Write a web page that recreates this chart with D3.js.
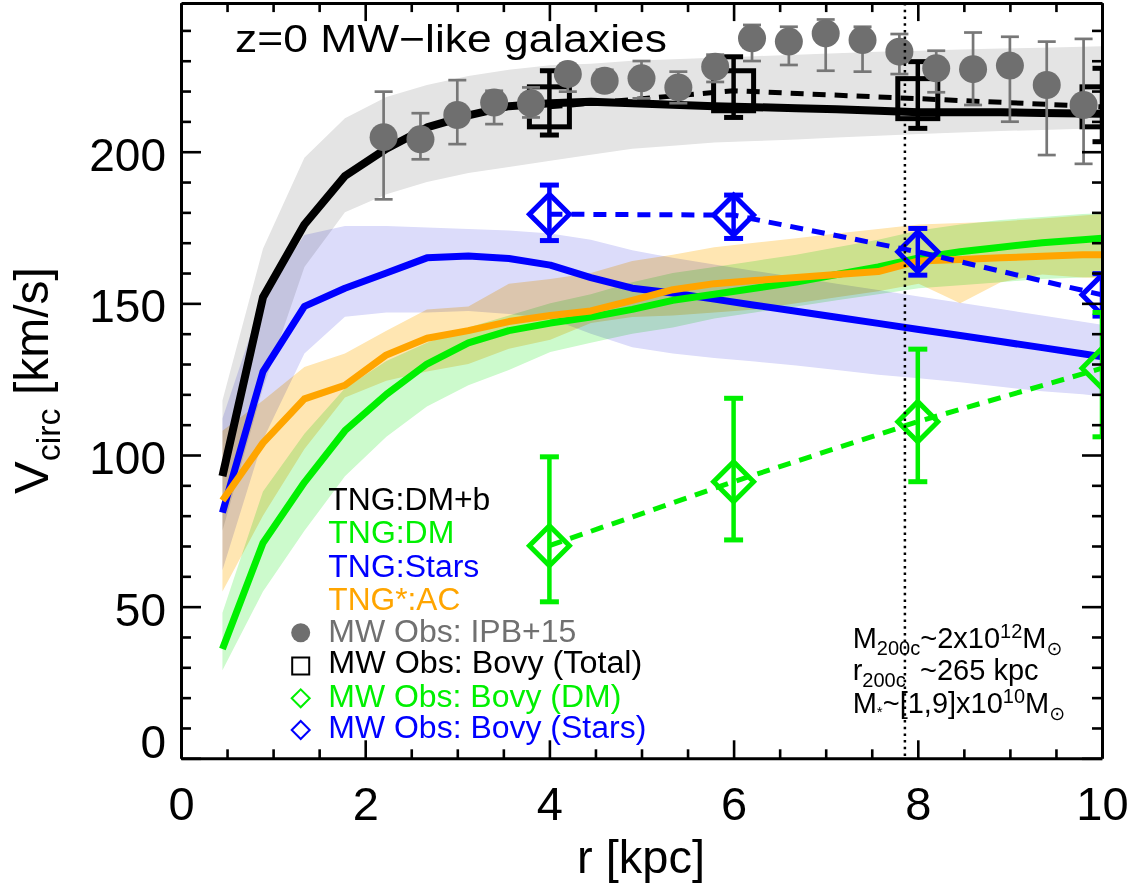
<!DOCTYPE html>
<html><head><meta charset="utf-8">
<script src="https://cdn.jsdelivr.net/npm/d3@7"></script>
<style>
body{margin:0;background:#fff}
svg text{font-family:"Liberation Sans",Arial,Helvetica,sans-serif}
</style>
</head><body>
<svg id="c" width="1135" height="886"></svg>
<script>
// ---- Simulation radial bins [kpc] ----
const radii = [0.45,0.89,1.34,1.78,2.23,2.67,3.12,3.56,4.01,4.45,4.90,5.34,5.79,6.23,6.68,7.12,7.57,8.01,8.46,8.90,9.35,9.79,10.24];
// TNG: DM+b (total)
const dmbMed = [93,152,176,192,201,208,212,215,216,216.5,216,215.5,215,214.7,214.3,214,213.5,213,213,213,212.8,212.6,212.5];
const dmbLo  = [75,122,162,180,186,190,193,195,197,199,201,202,203,203.5,204,204.7,205.3,205.8,206.3,206.8,207.2,207.6,208];
const dmbHi  = [118,168,198,211,218,222,225,227,228.5,229,230,230.5,231,231.5,232,232.5,233,233.3,233.7,234,234.3,234.6,235];
// TNG: Stars
const starsMed = [81,127.5,149,155,160,165,165.6,164.8,162.6,158.5,155,153.4,151.4,149.4,147.4,145.4,143.4,141.4,139.4,137.4,135.4,133.4,131.3];
const starsLo  = [62,105,133.5,145.6,147,147,147.5,146.5,145,140,135.5,133.5,132,130.8,129.5,128,126.5,125.3,124,122.5,121,120,118.5];
const starsHi  = [112,152,172.5,175.5,175.5,175,174.5,174,173,171,167.5,165,162.8,160.7,158.6,156.5,154.4,152.3,150.2,148.1,146,143.9,141.8];
// TNG: DM
const dmMed = [36,71,91,108,120,130,137,141,143.5,145.5,148,151,153,155,157,159.5,162,165,167,168.5,170,171,172];
const dmLo  = [29,55,75,93,106,116,123,128,134,137,140,142,145,147,149,151,153,155,156,157,158,158.5,159];
const dmHi  = [48,88,107,122,131,137,142,146,150,153,157,160,162,164,166,168.5,171,174,176,177.5,178.5,179.5,180];
// TNG*: AC
const acMed = [85,104,118.5,123,133,138.5,141,144,146,147.5,151,154.5,156.5,157.5,158.5,159.5,160.5,164,164.5,165,165.5,166,166];
const acLo  = [55,80,102,119,124.5,127.5,130,135,138,143.5,145.5,146,147,148,150,152,154,156.5,150,157,159.5,158.5,158];
const acHi  = [108,118,129,133.5,141,148,149,156.5,158,160,164,166,168.5,170,171.5,173,174.5,176,176.5,177,178,179,180];

// ---- MW observations: IPB+15 ----
const ipbR  = [2.2,2.6,3.0,3.4,3.8,4.2,4.6,5.0,5.4,5.8,6.2,6.6,7.0,7.4,7.8,8.2,8.6,9.0,9.4,9.8];
const ipbV  = [204.8,204.1,212.1,216.2,216,225.6,223.4,224.2,221.2,228,237.4,236.3,239,236.8,233,227.5,227.2,228.4,222,215.4];
const ipbLo = [184.3,197.5,202.5,209.1,211.3,219.8,220,217.6,216,223,229.9,228.6,226.7,226.4,225.6,219.6,215.4,209.9,198.9,196];
const ipbHi = [219.8,212.7,223.6,220.1,221.2,227,227,229.9,226.4,232,241.8,241.2,243.6,241.2,238.8,233.3,239.3,237.9,236.3,237.2];
// ---- MW observations: Bovy ----
const bovyR = [4,6,8,10];
const bovyTotV  = [214.8,220.1,217.5,214.8];
const bovyTotLo = [205.5,211.3,207.7,203.3];
const bovyTotHi = [226.7,231.3,229.7,227.5];
const bovyDmV  = [70.1,91.2,111,128.6];
const bovyDmLo = [51.6,72,91.2,106];
const bovyDmHi = [99.4,118.7,134.9,147];
const bovyStV  = [179.4,179.1,167,152.8];
const bovyStLo = [170.7,171.4,159.3,145.8];
const bovyStHi = [189,185.7,174.7,159.8];
const rSun = 7.86;

// ---- Axis ticks ----
const xMajor = [0,2,4,6,8,10];
const xMinor = d3.range(0.5,10,0.5).filter(v=>v%2!==0);
const yMajor = [0,50,100,150,200];
const yMinor = d3.range(10,249,10).filter(v=>v%50!==0);

const legendLabels = ["TNG:DM+b","TNG:DM","TNG:Stars","TNG*:AC","MW Obs: IPB+15","MW Obs: Bovy (Total)","MW Obs: Bovy (DM)","MW Obs: Bovy (Stars)"];

// ================= drawing =================
const svg = d3.select("#c");
const x = d3.scaleLinear().domain([0,10]).range([181,1102]);
const y = d3.scaleLinear().domain([0,249]).range([758.3,3.1]);

const COL = {black:"#000000", green:"#00f000", blue:"#0000ff", orange:"#ffa500", gray:"#707070"};

svg.append("defs").append("clipPath").attr("id","clip")
  .append("rect").attr("x",x(0)).attr("y",y(249)).attr("width",x(10)-x(0)).attr("height",y(0)-y(249));

const plot = svg.append("g").attr("clip-path","url(#clip)");

function rows(med,lo,hi){ return radii.map((r,i)=>({r, m:med[i], lo:lo[i], hi:hi[i]})); }
const series = [
  {med:dmbMed, lo:dmbLo, hi:dmbHi, line:COL.black, band:"#e4e4e4", w:8},
  {med:starsMed, lo:starsLo, hi:starsHi, line:COL.blue, band:"#dcdcfa", w:7},
  {med:dmMed, lo:dmLo, hi:dmHi, line:COL.green, band:"#ccfacc", w:7},
  {med:acMed, lo:acLo, hi:acHi, line:COL.orange, band:"#ffe6b2", w:7}
];
const area = d3.area().x(d=>x(d.r)).y0(d=>y(d.lo)).y1(d=>y(d.hi));
const line = d3.line().x(d=>x(d.r)).y(d=>y(d.m));

const bands = plot.append("g");
series.forEach(s=>{
  bands.append("path").datum(rows(s.med,s.lo,s.hi)).attr("d",area)
    .attr("fill",s.band).style("mix-blend-mode","multiply");
});
series.forEach(s=>{
  plot.append("path").datum(rows(s.med,s.lo,s.hi)).attr("d",line)
    .attr("fill","none").attr("stroke",s.line).attr("stroke-width",s.w)
    .attr("stroke-linejoin","round");
});

// Bovy data
function bovy(vals, lo, hi, color, shape){
  const pts = bovyR.map((r,i)=>({r, v:vals[i], lo:lo[i], hi:hi[i]}));
  const g = plot.append("g");
  g.append("path").datum(pts)
    .attr("d", d3.line().x(d=>x(d.r)).y(d=>y(d.v)))
    .attr("fill","none").attr("stroke",color).attr("stroke-width",5).attr("stroke-dasharray","13 9");
  const e = g.selectAll("g.e").data(pts).enter().append("g");
  e.append("line").attr("x1",d=>x(d.r)).attr("x2",d=>x(d.r)).attr("y1",d=>y(d.lo)).attr("y2",d=>y(d.hi))
    .attr("stroke",color).attr("stroke-width",4.5);
  e.append("line").attr("x1",d=>x(d.r)-9.5).attr("x2",d=>x(d.r)+9.5).attr("y1",d=>y(d.lo)).attr("y2",d=>y(d.lo))
    .attr("stroke",color).attr("stroke-width",5);
  e.append("line").attr("x1",d=>x(d.r)-9.5).attr("x2",d=>x(d.r)+9.5).attr("y1",d=>y(d.hi)).attr("y2",d=>y(d.hi))
    .attr("stroke",color).attr("stroke-width",5);
  if(shape==="square"){
    e.append("rect").attr("x",d=>x(d.r)-20).attr("y",d=>y(d.v)-20).attr("width",40).attr("height",40)
      .attr("fill","none").attr("stroke",color).attr("stroke-width",5);
  } else {
    e.append("path").attr("d",d=>{const cx=x(d.r), cy=y(d.v), h=20;
        return `M${cx-h},${cy}L${cx},${cy-h}L${cx+h},${cy}L${cx},${cy+h}Z`;})
      .attr("fill","none").attr("stroke",color).attr("stroke-width",5).attr("stroke-linejoin","miter");
  }
}
bovy(bovyTotV,bovyTotLo,bovyTotHi,COL.black,"square");
bovy(bovyStV,bovyStLo,bovyStHi,COL.blue,"diamond");
bovy(bovyDmV,bovyDmLo,bovyDmHi,COL.green,"diamond");

// IPB+15
const ipb = ipbR.map((r,i)=>({r, v:ipbV[i], lo:ipbLo[i], hi:ipbHi[i]}));
const gi = plot.append("g");
const ie = gi.selectAll("g").data(ipb).enter().append("g");
ie.append("line").attr("x1",d=>x(d.r)).attr("x2",d=>x(d.r)).attr("y1",d=>y(d.lo)).attr("y2",d=>y(d.hi))
  .attr("stroke","#777").attr("stroke-width",2.7);
ie.append("line").attr("x1",d=>x(d.r)-9).attr("x2",d=>x(d.r)+9).attr("y1",d=>y(d.lo)).attr("y2",d=>y(d.lo))
  .attr("stroke","#777").attr("stroke-width",2.7);
ie.append("line").attr("x1",d=>x(d.r)-9).attr("x2",d=>x(d.r)+9).attr("y1",d=>y(d.hi)).attr("y2",d=>y(d.hi))
  .attr("stroke","#777").attr("stroke-width",2.7);
ie.append("circle").attr("cx",d=>x(d.r)).attr("cy",d=>y(d.v)).attr("r",14).attr("fill","#6f6f6f");

// Solar radius dotted line
svg.append("line").attr("x1",x(rSun)).attr("x2",x(rSun)).attr("y1",y(249)).attr("y2",y(0))
  .attr("stroke","#000").attr("stroke-width",2.5).attr("stroke-dasharray","2.5 4.2");

// ---- Axes ----
function styleAxis(g){ g.selectAll("line").attr("stroke","#000").attr("stroke-width",2.6);
  g.select(".domain").attr("stroke","#000").attr("stroke-width",3); }
const gB = svg.append("g").attr("transform",`translate(0,${y(0)})`)
  .call(d3.axisBottom(x).tickValues(xMajor).tickSize(-18).tickSizeOuter(0).tickFormat(d3.format("d")));
styleAxis(gB);
gB.selectAll("text").attr("y",62).attr("dy",null).attr("fill","#000").style("font-size","47px")
  .style("font-family","'Liberation Sans',Arial,sans-serif");
svg.append("g").attr("transform",`translate(0,${y(0)})`)
  .call(d3.axisBottom(x).tickValues(xMinor).tickSize(-9).tickFormat("")).call(g=>{styleAxis(g);g.select(".domain").remove();});
const gT = svg.append("g").attr("transform",`translate(0,${y(249)})`)
  .call(d3.axisTop(x).tickValues(xMajor).tickSize(-18).tickSizeOuter(0).tickFormat(""));
styleAxis(gT);
svg.append("g").attr("transform",`translate(0,${y(249)})`)
  .call(d3.axisTop(x).tickValues(xMinor).tickSize(-9).tickFormat("")).call(g=>{styleAxis(g);g.select(".domain").remove();});

const gL = svg.append("g").attr("transform",`translate(${x(0)},0)`)
  .call(d3.axisLeft(y).tickValues(yMajor).tickSize(-20).tickSizeOuter(0).tickPadding(15).tickFormat(d3.format("d")));
styleAxis(gL);
gL.selectAll("text").attr("dy","0.4em").attr("fill","#000").style("font-size","46px")
  .style("font-family","'Liberation Sans',Arial,sans-serif")
  .attr("y",d=>d===0?-19:0);
svg.append("g").attr("transform",`translate(${x(0)},0)`)
  .call(d3.axisLeft(y).tickValues(yMinor).tickSize(-10).tickFormat("")).call(g=>{styleAxis(g);g.select(".domain").remove();});
const gR = svg.append("g").attr("transform",`translate(${x(10)},0)`)
  .call(d3.axisRight(y).tickValues(yMajor).tickSize(-20).tickSizeOuter(0).tickFormat(""));
styleAxis(gR);
svg.append("g").attr("transform",`translate(${x(10)},0)`)
  .call(d3.axisRight(y).tickValues(yMinor).tickSize(-10).tickFormat("")).call(g=>{styleAxis(g);g.select(".domain").remove();});

// ---- Titles ----
svg.append("text").attr("x",235).attr("y",52).style("font-size","38px")
  .attr("textLength",432).attr("lengthAdjust","spacingAndGlyphs").text("z=0 MW\u2212like galaxies");
svg.append("text").attr("x",577).attr("y",873).style("font-size","46px")
  .attr("textLength",128).attr("lengthAdjust","spacingAndGlyphs").text("r [kpc]");
const yt = svg.append("text").attr("transform","translate(48.3,494) rotate(-90)").attr("x",0).attr("y",0);
yt.append("tspan").style("font-size","49px").text("V");
yt.append("tspan").style("font-size","34px").attr("dy",12).text("circ");
yt.append("tspan").style("font-size","48px").attr("dy",-12).text("\u00a0[km/s]");

// ---- Legend ----
const legColors = [COL.black, COL.green, COL.blue, COL.orange, COL.gray, COL.black, COL.green, COL.blue];
const legY = [510,543.3,576.7,610,641.7,673.3,706.7,738.3];
const legW = [162,126,151,132,248,314,293,318];
svg.append("g").selectAll("text").data(legendLabels).enter().append("text")
  .attr("x",328.3).attr("y",(d,i)=>legY[i]).style("font-size","31px")
  .attr("fill",(d,i)=>legColors[i])
  .attr("textLength",(d,i)=>legW[i]).attr("lengthAdjust","spacingAndGlyphs")
  .text(d=>d);
const lx = 300.7;
svg.append("circle").attr("cx",lx).attr("cy",632.7).attr("r",9.5).attr("fill","#6f6f6f");
svg.append("rect").attr("x",lx-8.5).attr("y",666-8.5).attr("width",17).attr("height",17)
  .attr("fill","none").attr("stroke","#000").attr("stroke-width",2);
[[698.3,COL.green],[730,COL.blue]].forEach(([cy,c])=>{
  svg.append("path").attr("d",`M${lx-9},${cy}L${lx},${cy-9}L${lx+9},${cy}L${lx},${cy+9}Z`)
    .attr("fill","none").attr("stroke",c).attr("stroke-width",2);
});

// ---- Annotation ----
function ann(yb, parts){
  const t = svg.append("text").attr("x",852.7).attr("y",yb).style("font-size","29px");
  parts.forEach(p=>{
    const s = t.append("tspan").text(p.t).attr("y", yb + (p.dy||0));
    if(p.fs) s.style("font-size",p.fs+"px");
    if(p.x) s.attr("x",p.x);
    if(p.ff) s.style("font-family",p.ff);
  });
}
ann(648.3,[{t:"M"},{t:"200c",fs:20,dy:7},{t:"~2x10"},{t:"12",fs:20,dy:-10.7},{t:"M"},{t:"\u2299",fs:19,dy:7,ff:"'DejaVu Sans'"}]);
ann(680,[{t:"r"},{t:"200c",fs:20,dy:7},{t:"~265 kpc",x:920}]);
ann(713.3,[{t:"M"},{t:"*",fs:15,dy:4},{t:"~[1,9]x10"},{t:"10",fs:20,dy:-10.7},{t:"M"},{t:"\u2299",fs:19,dy:7,ff:"'DejaVu Sans'"}]);
</script>
</body></html>
